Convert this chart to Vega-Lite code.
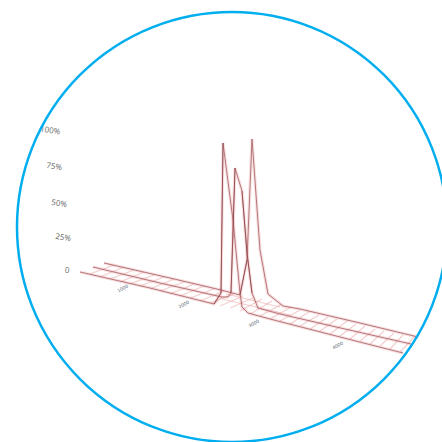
{"$schema":"https://vega.github.io/schema/vega-lite/v6.json","width":442,"height":442,"autosize":{"type":"none"},"padding":0,"background":"white","view":{"stroke":null},
"datasets":{
"traces":[
{"s":"a","o":1,"x":80,"y":272},{"s":"a","o":2,"x":150,"y":288},{"s":"a","o":3,"x":214,"y":304},{"s":"a","o":4,"x":221,"y":293},{"s":"a","o":5,"x":223,"y":143},{"s":"a","o":6,"x":233,"y":220},{"s":"a","o":7,"x":240,"y":293},{"s":"a","o":8,"x":242,"y":307},{"s":"a","o":9,"x":248,"y":313},{"s":"a","o":10,"x":270,"y":319},{"s":"a","o":11,"x":340,"y":337},{"s":"a","o":12,"x":403,"y":353},
{"s":"b","o":1,"x":93,"y":267},{"s":"b","o":2,"x":160,"y":283},{"s":"b","o":3,"x":222,"y":297},{"s":"b","o":4,"x":228,"y":297},{"s":"b","o":5,"x":231,"y":293},{"s":"b","o":6,"x":235,"y":168},{"s":"b","o":7,"x":242,"y":191},{"s":"b","o":8,"x":247,"y":253},{"s":"b","o":9,"x":252,"y":293},{"s":"b","o":10,"x":258,"y":308},{"s":"b","o":11,"x":280,"y":314},{"s":"b","o":12,"x":345,"y":329},{"s":"b","o":13,"x":411,"y":344},
{"s":"c","o":1,"x":104,"y":263},{"s":"c","o":2,"x":170,"y":278},{"s":"c","o":3,"x":221,"y":290},{"s":"c","o":4,"x":240,"y":295},{"s":"c","o":5,"x":247,"y":260},{"s":"c","o":6,"x":252,"y":139},{"s":"c","o":7,"x":260,"y":250},{"s":"c","o":8,"x":268,"y":294},{"s":"c","o":9,"x":283,"y":306},{"s":"c","o":10,"x":300,"y":309},{"s":"c","o":11,"x":360,"y":323},{"s":"c","o":12,"x":418,"y":337}
],
"legs":[
{"s":"a","o":1,"x":214,"y":304},{"s":"a","o":2,"x":221,"y":293},{"s":"a","o":3,"x":223,"y":143},
{"s":"b","o":1,"x":231,"y":293},{"s":"b","o":2,"x":235,"y":168},
{"s":"d","o":1,"x":242,"y":191},{"s":"d","o":2,"x":247,"y":253},{"s":"d","o":3,"x":252,"y":293},
{"s":"c","o":1,"x":240,"y":295},{"s":"c","o":2,"x":247,"y":260}
],
"grid":[
{"g":1,"x":90,"y":274},{"g":1,"x":114,"y":265},{"g":2,"x":100,"y":277},{"g":2,"x":124,"y":267},{"g":3,"x":110,"y":279},{"g":3,"x":134,"y":270},{"g":4,"x":120,"y":282},{"g":4,"x":144,"y":272},{"g":5,"x":130,"y":284},{"g":5,"x":154,"y":275},{"g":6,"x":140,"y":286},{"g":6,"x":164,"y":277},{"g":7,"x":150,"y":289},{"g":7,"x":174,"y":279},{"g":8,"x":160,"y":291},{"g":8,"x":184,"y":282},{"g":9,"x":170,"y":294},{"g":9,"x":194,"y":284},{"g":10,"x":180,"y":296},{"g":10,"x":204,"y":286},{"g":11,"x":190,"y":298},{"g":11,"x":214,"y":289},{"g":12,"x":200,"y":301},{"g":12,"x":224,"y":291},{"g":13,"x":210,"y":303},{"g":13,"x":234,"y":294},{"g":14,"x":220,"y":306},{"g":14,"x":243,"y":296},{"g":15,"x":230,"y":308},{"g":15,"x":253,"y":298},{"g":16,"x":240,"y":311},{"g":16,"x":262,"y":299},{"g":17,"x":250,"y":314},{"g":17,"x":272,"y":301},{"g":18,"x":260,"y":316},{"g":18,"x":282,"y":304},{"g":19,"x":270,"y":319},{"g":19,"x":291,"y":307},{"g":20,"x":280,"y":321},{"g":20,"x":300,"y":310},{"g":21,"x":290,"y":324},{"g":21,"x":309,"y":312},{"g":22,"x":300,"y":326},{"g":22,"x":319,"y":315},{"g":23,"x":310,"y":329},{"g":23,"x":328,"y":317},{"g":24,"x":320,"y":331},{"g":24,"x":337,"y":319},{"g":25,"x":330,"y":334},{"g":25,"x":347,"y":321},{"g":26,"x":340,"y":336},{"g":26,"x":356,"y":324},{"g":27,"x":350,"y":339},{"g":27,"x":365,"y":326},{"g":28,"x":360,"y":341},{"g":28,"x":375,"y":329},{"g":29,"x":370,"y":344},{"g":29,"x":384,"y":331},{"g":30,"x":380,"y":346},{"g":30,"x":394,"y":333},{"g":31,"x":390,"y":349},{"g":31,"x":403,"y":335},{"g":32,"x":400,"y":352},{"g":32,"x":415,"y":336},
{"g":40,"x":214,"y":304},{"g":40,"x":222,"y":297},{"g":41,"x":222,"y":299},{"g":41,"x":290,"y":315},{"g":42,"x":226,"y":294},{"g":42,"x":280,"y":307}
],
"ylabels":[{"t":"100%","x":50,"y":131},{"t":"75%","x":54,"y":167},{"t":"50%","x":59,"y":204},{"t":"25%","x":63,"y":238},{"t":"0","x":67,"y":271}],
"xlabels":[{"t":"1000","x":123,"y":289},{"t":"2000","x":184,"y":305},{"t":"3000","x":254,"y":324},{"t":"4000","x":338,"y":346}],
"ring":[{"x":232,"y":227}]
},
"layer":[
{"data":{"name":"grid"},"mark":{"type":"line","color":"#e9a7a7","strokeWidth":1.2,"opacity":0.55},"encoding":{"x":{"field":"x","type":"quantitative","scale":{"domain":[0,442]},"axis":null},"y":{"field":"y","type":"quantitative","scale":{"domain":[442,0]},"axis":null},"detail":{"field":"g"}}},
{"data":{"name":"traces"},"mark":{"type":"line","color":"#eba6a6","strokeWidth":3.2,"opacity":0.35},"encoding":{"x":{"field":"x","type":"quantitative","scale":{"domain":[0,442]},"axis":null},"y":{"field":"y","type":"quantitative","scale":{"domain":[442,0]},"axis":null},"detail":{"field":"s"},"order":{"field":"o"}}},
{"data":{"name":"traces"},"mark":{"type":"line","color":"#a8646a","strokeWidth":1,"opacity":0.85},"encoding":{"x":{"field":"x","type":"quantitative","scale":{"domain":[0,442]},"axis":null},"y":{"field":"y","type":"quantitative","scale":{"domain":[442,0]},"axis":null},"detail":{"field":"s"},"order":{"field":"o"}}},
{"data":{"name":"legs"},"mark":{"type":"line","color":"#84393f","strokeWidth":1,"opacity":0.6},"encoding":{"x":{"field":"x","type":"quantitative","scale":{"domain":[0,442]},"axis":null},"y":{"field":"y","type":"quantitative","scale":{"domain":[442,0]},"axis":null},"detail":{"field":"s"},"order":{"field":"o"}}},
{"data":{"name":"ylabels"},"mark":{"type":"text","font":"Open Sans","fontSize":8,"color":"#666666","angle":9},"encoding":{"x":{"field":"x","type":"quantitative","scale":{"domain":[0,442]},"axis":null},"y":{"field":"y","type":"quantitative","scale":{"domain":[442,0]},"axis":null},"text":{"field":"t"}}},
{"data":{"name":"xlabels"},"mark":{"type":"text","font":"DejaVu Sans","fontSize":4.5,"color":"#5f6a75","angle":-28},"encoding":{"x":{"field":"x","type":"quantitative","scale":{"domain":[0,442]},"axis":null},"y":{"field":"y","type":"quantitative","scale":{"domain":[442,0]},"axis":null},"text":{"field":"t"}}},
{"data":{"name":"ring"},"mark":{"type":"point","shape":"circle","filled":false,"color":"#00aeef","strokeWidth":2.5,"size":184900,"opacity":1,"clip":false},"encoding":{"x":{"field":"x","type":"quantitative","scale":{"domain":[0,442]},"axis":null},"y":{"field":"y","type":"quantitative","scale":{"domain":[442,0]},"axis":null}}}
]}
